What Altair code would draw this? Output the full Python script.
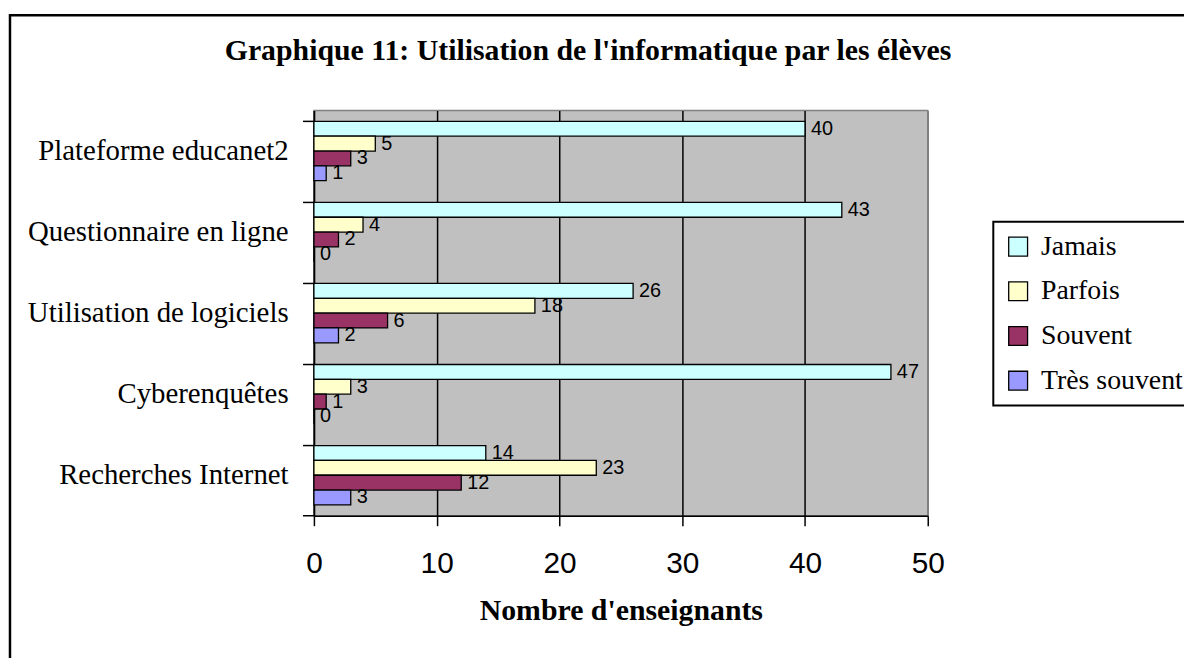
import altair as alt
import pandas as pd

categories = ["Plateforme educanet2", "Questionnaire en ligne", "Utilisation de logiciels",
              "Cyberenquêtes", "Recherches Internet"]
series = ["Jamais", "Parfois", "Souvent", "Très souvent"]
jamais = [40, 43, 26, 47, 14]
parfois = [5, 4, 18, 3, 23]
souvent = [3, 2, 6, 1, 12]
tres_souvent = [1, 0, 2, 0, 3]
colors = ["#CCFFFF", "#FFFFCC", "#993366", "#9999FF"]
x_ticks = [0, 10, 20, 30, 40, 50]

rows = []
for s, vals in zip(series, [jamais, parfois, souvent, tres_souvent]):
    for c, v in zip(categories, vals):
        rows.append({"cat": c, "series": s, "value": v})
df = pd.DataFrame(rows)

W, H = 618, 408

y_enc = alt.Y("cat:N", sort=categories,
              scale=alt.Scale(paddingInner=0.268, paddingOuter=0.134),
              axis=alt.Axis(title=None, ticks=False, tickSize=0,
                            labelFont="Liberation Serif", labelFontSize=29,
                            labelColor="black", labelPadding=26, labelLimit=500,
                            domainColor="black", domainWidth=1.5))
yoff = alt.YOffset("series:N", sort=series,
                   scale=alt.Scale(paddingInner=0, paddingOuter=0))
x_enc = alt.X("value:Q", scale=alt.Scale(domain=[0, 50], nice=False),
              axis=alt.Axis(values=x_ticks, title="Nombre d'enseignants",
                            labelFont="Liberation Sans", labelFontSize=30,
                            labelColor="black", labelPadding=23, labelFlush=False,
                            tickColor="black", tickWidth=1.5, tickSize=10,
                            domainColor="black", domainWidth=1.5,
                            grid=True,
                            gridColor=alt.condition("datum.value === 50",
                                                    alt.value("#808080"),
                                                    alt.value("black")),
                            gridWidth=1.5,
                            titleFont="Liberation Serif", titleFontSize=30,
                            titleFontWeight="bold", titleColor="black",
                            titlePadding=17))

frame = alt.Chart(pd.DataFrame({"k": [0]})).mark_rect(
    fillOpacity=0, stroke="black", strokeWidth=2.5
).encode(x=alt.value(-306), x2=alt.value(1400), y=alt.value(-96), y2=alt.value(900))

bars = alt.Chart(df).mark_bar(stroke="black", strokeWidth=1.3).encode(
    x=x_enc, y=y_enc, yOffset=yoff,
    color=alt.Color("series:N", sort=series,
                    scale=alt.Scale(domain=series, range=colors),
                    legend=alt.Legend(title=None, orient="none",
                                      legendX=684, legendY=112,
                                      padding=11, strokeColor="black",
                                      fillColor="white",
                                      symbolType="square", symbolSize=361,
                                      symbolStrokeColor="black",
                                      symbolStrokeWidth=1.3,
                                      labelFont="Liberation Serif",
                                      labelFontSize=28, labelColor="black",
                                      rowPadding=17, labelOffset=9,
                                      labelLimit=400)),
)

labels = alt.Chart(df).mark_text(
    align="left", baseline="middle", dx=6,
    font="Liberation Sans", fontSize=20, color="black"
).encode(x="value:Q", y=alt.Y("cat:N", sort=categories), yOffset=yoff,
         text="value:Q")

ticks = alt.Chart(pd.DataFrame({"cat": categories})).mark_rule(
    color="black", strokeWidth=1.5
).encode(y=alt.Y("cat:N", sort=categories, bandPosition=0),
         x=alt.value(-11), x2=alt.value(0))

bottom_tick = alt.Chart(pd.DataFrame({"k": [0]})).mark_rule(
    color="black", strokeWidth=1.5
).encode(y=alt.value(H), x=alt.value(-11), x2=alt.value(0))

chart = alt.layer(frame, bars, labels, ticks, bottom_tick).properties(
    width=W, height=H,
    autosize="none",
    padding={"left": 308, "top": 101, "right": 258, "bottom": 141},
    title=alt.TitleParams(
        text="Graphique 11: Utilisation de l'informatique par les élèves",
        font="Liberation Serif", fontSize=30, fontWeight="bold",
        color="black", anchor="middle", dx=-33, dy=56),
).configure_view(
    fill="#C0C0C0", stroke="#808080", strokeWidth=1.5
).configure_legend(strokeWidth=2)

chart.save("out.html", embed_options={"renderer": "svg", "actions": False})
